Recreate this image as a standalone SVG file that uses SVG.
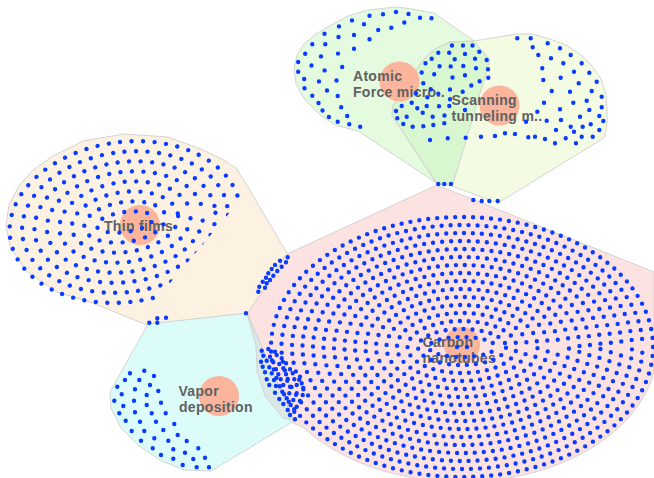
<svg xmlns="http://www.w3.org/2000/svg" width="654" height="478" viewBox="0 0 654 478">
  <style>
    .cell { stroke: #cfcfcf; stroke-width: 0.9; stroke-linejoin: round; }
    .thin { fill: #fdf1e2; }
    .vapor { fill: #dcfcf9; }
    .carbon { fill: #fde2e2; }
    .mix { fill: #dae9e5; }
    .afm { fill: #e4fbe0; }
    .stm { fill: #f3fce2; }
    .afmstm { fill: #d8f6cf; }
    .dots { fill: none; stroke: #0a3cff; stroke-width: 4.4; stroke-linecap: round; }
    .ring { fill: none; stroke: #0a3cff; stroke-width: 4.4; stroke-linecap: round; }
    .r12 { stroke-dasharray: 0 11.5; }
    .r9 { stroke-dasharray: 0 9; }
    .hub { fill: #fbb59c; }
    .label { font-family: "Liberation Sans", Arial, sans-serif; font-weight: bold; font-size: 14px; letter-spacing: 0.3px; fill: #616161; }
  </style>
  <defs>
    <clipPath id="thinClip">
      <polygon points="0,100 270,100 270,165 154,302 0,330"/>
    </clipPath>
  </defs>

  <!-- background cells -->
  <g id="cells">
    <path class="cell carbon" d="M437,185 L654,272 L654,372 A196,134 0 0 1 304,428 L283,418 L265,396 L257,371 L256,346 L247,313 L287,254 Z"/>
    <path class="cell thin" d="M248,313 L287,253 L245,182 L236,168 L222,159 L201,149 L168,137 L124,134 L83,141 L53,156 L33,170 L19,186 L9,205 L6,225 L10,246 L26,271 L57,292 L90,302 L147,325 Z"/>
    <path class="cell vapor" d="M148,324 L247,313 L294,421 L211,471 L185,470 L162,461 L139,446 L121,428 L111,408 L110,392 Z"/>
    <path class="cell mix" d="M247,313 L256,346 L257,371 L265,396 L283,418 L294,421 Z"/>
    <path class="cell afm" d="M438,184 L358,131 L335,125 L320,115 L305,100 L296,84 L294,68 L297,55 L304,44 L316,34 L331,25 L348,16 L368,10 L396,7 L412,9 L434,13 L474,41 L490,60 L453,184 Z"/>
    <path class="cell stm" d="M437,184 L401,129 L392,116 L393,106 L423,60 L435,49 L450,42 L474,41 L517,34 L532,34 L550,39 L566,45 L580,54 L592,66 L601,79 L606,95 L607,110 L607,125 L604,138 L498,203 L452,186 Z"/>
    <path class="cell afmstm" d="M437,184 L401,129 L392,116 L393,106 L423,60 L435,49 L450,42 L474,41 L490,60 L453,184 Z"/>
  </g>

  <!-- Thin films -->
  <g id="node-thin-films">
    <circle class="hub" cx="140" cy="225" r="20"/>
    <text class="label" x="104" y="230.5">Thin films</text>
    <g clip-path="url(#thinClip)">
      <g transform="rotate(-8 125 222)">
        <ellipse class="ring r12" cx="125" cy="222" rx="116" ry="80"/>
        <ellipse class="ring r12" cx="125" cy="222" rx="103.5" ry="70" stroke-dashoffset="4"/>
        <ellipse class="ring r12" cx="125" cy="222" rx="91" ry="60" stroke-dashoffset="8"/>
        <ellipse class="ring r12" cx="125" cy="222" rx="78.5" ry="50" stroke-dashoffset="2"/>
        <ellipse class="ring r12" cx="125" cy="222" rx="66" ry="40" stroke-dashoffset="6"/>
        <ellipse class="ring r12" cx="125" cy="222" rx="53.5" ry="30" stroke-dashoffset="10"/>
        <ellipse class="ring r12" cx="125" cy="222" rx="41" ry="20" stroke-dashoffset="3"/>
        <ellipse class="ring r12" cx="125" cy="222" rx="28.5" ry="10" stroke-dashoffset="7"/>
      </g>
    </g>
    <path class="dots" d="M149.3,322.7h0M157.3,318.3h0M157.3,322.7h0M166,317.7h0M246,313.3h0"/>
  </g>

  <!-- Vapor deposition -->
  <g id="node-vapor-deposition">
    <circle class="hub" cx="219" cy="396" r="20"/>
    <text class="label"><tspan x="178.5" y="396">Vapor</tspan><tspan x="179" y="412">deposition</tspan></text>
    <path class="dots" d="M144.3,370.7h0M130,373.3h0M154,376h0M125,380h0M139.3,380h0M150,385h0M117.3,386.7h0M135,389.3h0M158.3,391h0M121.7,394.3h0M146.7,395h0M114.3,400.7h0M134,400.7h0M161,402.7h0M123.3,406h0M146.7,405h0M119.3,413.3h0M135,412.3h0M151.7,413.3h0M165.7,413.3h0M125.7,420.7h0M140,421.7h0M156,421.7h0M174.3,424h0M131.7,431h0M144.3,431h0M163.3,430h0M177.7,435h0M141,440.7h0M154.3,438.3h0M168.3,440.7h0M186.7,441h0M152.7,448.3h0M173.3,449.3h0M198.3,448.3h0M161,455h0M185,452.7h0M173.3,458.7h0M193.3,459h0M205,457.7h0M182.7,465h0M196.7,467.3h0M209,467.3h0"/>
  </g>

  <!-- Carbon nanotubes -->
  <g id="node-carbon-nanotubes">
    <circle class="hub" cx="462" cy="345" r="18"/>
    <text class="label"><tspan x="422.5" y="346.5">Carbon</tspan><tspan x="422.5" y="362.5">nanotubes</tspan></text>
    <ellipse class="ring r9" cx="462" cy="347" rx="191" ry="130"/>
    <ellipse class="ring r9" cx="462" cy="347" rx="180.5" ry="122" stroke-dashoffset="3.3"/>
    <ellipse class="ring r9" cx="462" cy="347" rx="170" ry="114" stroke-dashoffset="6.6"/>
    <ellipse class="ring r9" cx="462" cy="347" rx="159.5" ry="106" stroke-dashoffset="0.4"/>
    <ellipse class="ring r9" cx="462" cy="347" rx="149" ry="98" stroke-dashoffset="3.7"/>
    <ellipse class="ring r9" cx="462" cy="347" rx="138.5" ry="90" stroke-dashoffset="7"/>
    <ellipse class="ring r9" cx="462" cy="347" rx="128" ry="82" stroke-dashoffset="0.8"/>
    <ellipse class="ring r9" cx="462" cy="347" rx="117.5" ry="74" stroke-dashoffset="4.1"/>
    <ellipse class="ring r9" cx="462" cy="347" rx="107" ry="66" stroke-dashoffset="7.4"/>
    <ellipse class="ring r9" cx="462" cy="347" rx="96.5" ry="58" stroke-dashoffset="1.2"/>
    <ellipse class="ring r9" cx="462" cy="347" rx="86" ry="50" stroke-dashoffset="4.5"/>
    <ellipse class="ring r9" cx="462" cy="347" rx="75.5" ry="42" stroke-dashoffset="7.8"/>
    <ellipse class="ring r9" cx="462" cy="347" rx="65" ry="34" stroke-dashoffset="1.6"/>
    <ellipse class="ring r9" cx="462" cy="347" rx="54.5" ry="26" stroke-dashoffset="4.9"/>
    <ellipse class="ring r9" cx="462" cy="347" rx="44" ry="18" stroke-dashoffset="8.2"/>
    <ellipse class="ring r9" cx="462" cy="347" rx="33.5" ry="10" stroke-dashoffset="2.5"/>
    <path class="dots" d="M457,347h0M467,347h0"/>
    <!-- side clusters along the cell border -->
    <path class="dots" d="M287.7,257.3h0M280,260.7h0M286,262.3h0M275,265h0M281.7,266.7h0M271.7,269h0M277.3,271h0M268.3,273.3h0M273.3,275.7h0M266,277.7h0M270,280h0M262.7,281.7h0M266.7,283.3h0M259.3,286.7h0M265,287.7h0M258.3,291.7h0"/>
    <path class="dots" d="M261.7,350.7h0M268.3,349h0M275,351.7h0M263.3,355.7h0M270,356.7h0M276.7,355h0M281.7,358.3h0M261,361.7h0M266.7,360.7h0M273.3,362.3h0M279.3,364h0M286,363.3h0M262.7,366.7h0M269.3,367.3h0M276,369.3h0M283.3,368.3h0M290,369.3h0M265,372.3h0M271.7,373.3h0M278.3,374.3h0M286,374.3h0M292.7,373.3h0M266.7,379.3h0M274,380h0M280.7,379.3h0M287.3,380.7h0M294.3,379.3h0M300,376.7h0M269.3,385h0M276,386h0M283.3,385h0M290,386.7h0M296.7,385h0M301.7,383.3h0M303.3,389.3h0M275,392.7h0M282.3,391.7h0M289.3,393.3h0M296.7,393.3h0M302.7,395h0M279.3,399h0M286.7,398.3h0M293.3,400h0M300,401h0M283.3,404h0M290.7,405h0M296.7,406.7h0M287.7,410h0M294.3,411.7h0M290,415h0M295,419.3h0"/>
    <path class="dots" d="M438.3,184h0M444.3,184h0M451,184h0M473.3,200h0M481.7,201h0M489.3,201h0M497.7,201h0"/>
  </g>

  <!-- Atomic force microscopy -->
  <g id="node-atomic-force">
    <circle class="hub" cx="399.5" cy="81.5" r="20"/>
    <text class="label"><tspan x="353" y="81">Atomic</tspan><tspan x="353" y="97">Force micro..</tspan></text>
    <path class="dots" d="M396,12h0M383,14.3h0M369.5,15.8h0M408.5,14h0M420,17.8h0M431.5,18.3h0M352,20.4h0M364,24.2h0M339,26.4h0M404.3,22.5h0M391.3,27.7h0M378.2,30h0M324.5,33.7h0M354,35h0M338.5,37h0M369.5,39.3h0M312.3,44.2h0M325.3,44.3h0M354,48.7h0M305.2,53.7h0M338,53.6h0M321,56.4h0M298.2,62h0M311.5,65.5h0M342.2,67h0M324.6,70.4h0M298.2,71.7h0M304.2,79h0M319,81.4h0M336.5,80.5h0M304.5,88.3h0M327,90.5h0M312.3,95.7h0M337.7,96h0M318.5,103h0M322.5,110.5h0M341.2,107.3h0M328.9,117h0M347.2,116h0M337.7,121.7h0M349.3,124.2h0M360.2,126.7h0"/>
  </g>

  <!-- Scanning tunneling microscopy -->
  <g id="node-scanning-tunneling">
    <circle class="hub" cx="499.5" cy="105.5" r="20"/>
    <text class="label"><tspan x="451.5" y="105">Scanning</tspan><tspan x="451.5" y="121">tunneling m..</tspan></text>
    <path class="dots" d="M452,45.5h0M463,45.5h0M472.5,45.5h0M438.3,52.7h0M449.2,52.7h0M465,54h0M479.3,51.7h0M431.7,58.7h0M454.7,59.2h0M475,58.7h0M486.7,60h0M425.5,63.3h0M439.6,66.2h0M450.7,66.4h0M463.3,66h0M476,68.3h0M488,69.2h0M421.7,72.5h0M434.2,74.2h0M452.5,77.5h0M465,75.3h0M479.6,81.3h0M488.3,77.8h0M423.3,83.3h0M430.7,89.3h0M450,89.5h0M462.7,91.7h0M471.3,85.5h0M416,93.3h0M427.3,97.3h0M438.3,93.7h0M450,99.3h0M396,111h0M401.7,106h0M411.7,102.7h0M417.3,108.3h0M426.7,106h0M439,106.3h0M449.3,106h0M465,110h0M397.3,118.3h0M406.7,116.7h0M422.7,112.7h0M432.7,116.7h0M444.5,115.5h0M403.3,124h0M412.7,126.7h0M423.3,126.3h0M433.3,125h0M444.3,123.3h0"/>
    <path class="dots" d="M517.3,38.3h0M530.7,38.3h0M547.7,43.3h0M560,48.3h0M570.7,55h0M581.7,63.3h0M589.3,72.7h0M596.7,81.7h0M591.7,91h0M601.7,96.7h0M601.7,107.3h0M599.3,116h0M603.3,121h0M590.7,124.3h0M599.3,130h0M592.7,136.7h0M581.7,136.7h0M582.7,126.7h0M574,131.7h0M576,143.3h0M565.7,138.3h0M555,143.3h0M556,130h0M545,139h0M535,136.7h0M528.3,137.3h0M532.7,47.3h0M538.3,55h0M551,58.3h0M563.3,63.3h0M574,71.7h0M578.7,83.3h0M586.7,100.7h0M589.3,110h0M580,116.7h0M570.7,126.7h0M542.3,68.3h0M543.3,80h0M560.7,77.7h0M570,91.7h0M573.3,102.7h0M551.7,91h0M544,102.7h0M560,109.3h0M561,120h0M537.3,111.7h0M546.7,120.7h0M526,121.7h0M515,134h0M505,133.3h0M495,136h0M481,136.7h0M465.7,137.7h0M447.7,138.3h0M430,140h0"/>
  </g>
</svg>
